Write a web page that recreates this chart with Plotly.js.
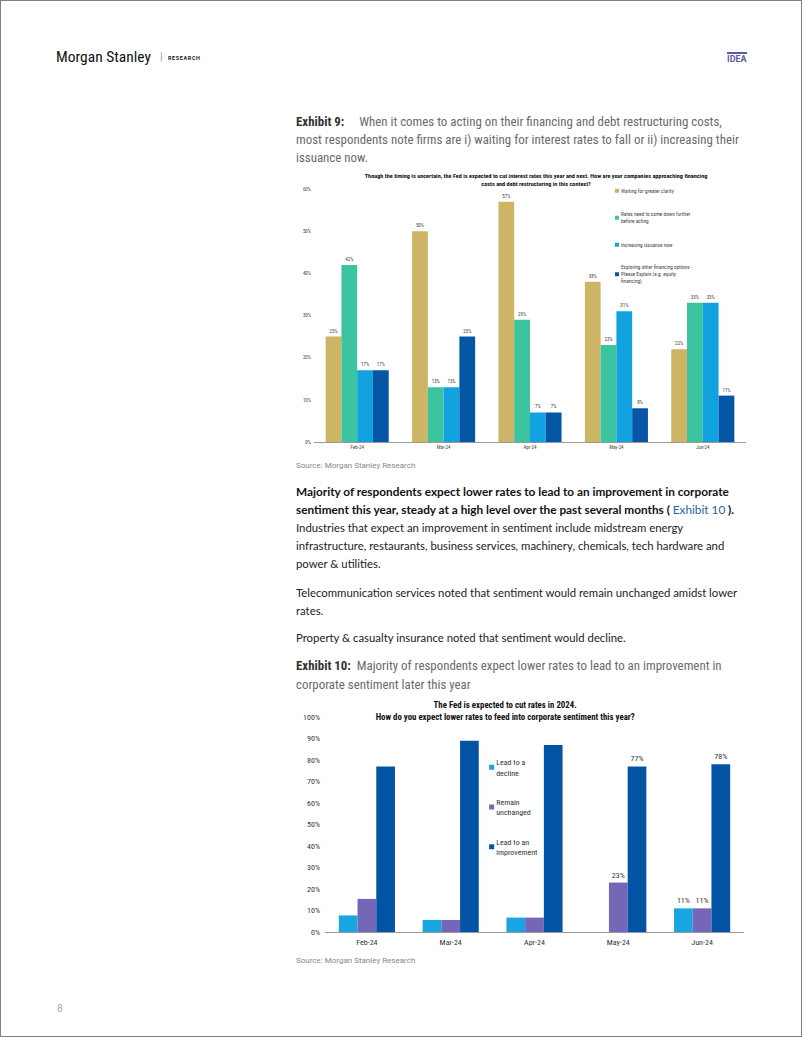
<!DOCTYPE html>
<html><head><meta charset="utf-8">
<script src="https://cdn.plot.ly/plotly-3.0.1.min.js"></script>
<style>
html,body{margin:0;padding:0;background:#fff;}
#page{position:relative;width:802px;height:1037px;box-sizing:border-box;border:1px solid #808080;overflow:hidden;font-family:Lato,"Noto Sans",sans-serif;}
.abs{position:absolute;white-space:nowrap;}
.narrow{font-family:"Liberation Sans Narrow","Roboto Condensed","Arial Narrow",Roboto,sans-serif;}
.para{font-size:11.35px;line-height:18px;color:#222;left:295px;}
.para b{font-size:11.8px;color:#111;}
.cap{font-size:12.9px;line-height:18px;color:#6a6a6a;left:295px;}
.cap b{color:#333;}
.src{font-size:8px;color:#888;left:295px;font-family:Roboto,sans-serif;}
#c1{position:absolute;left:290px;top:165px;width:460px;height:300px;}
#c2{position:absolute;left:280px;top:695px;width:475px;height:260px;}
</style></head>
<body>
<div id="page">
  <div class="abs narrow" style="left:55px;top:47px;font-size:15.5px;color:#111;">Morgan Stanley</div>
  <div class="abs" style="left:159px;top:49px;font-size:11px;color:#999;font-family:Roboto,sans-serif;">|</div>
  <div class="abs" style="left:167px;top:54px;font-size:5.5px;font-weight:bold;letter-spacing:0.6px;color:#222;font-family:Roboto,sans-serif;">RESEARCH</div>
  <div class="abs" style="left:726px;top:51px;width:20px;height:2px;background:#5B5BA8;"></div>
  <div class="abs" style="left:726px;top:53px;font-size:9px;font-weight:bold;color:#5B5BA8;font-family:Roboto,sans-serif;">IDEA</div>

  <div class="abs cap narrow" style="top:112px;"><b>Exhibit 9:</b>&nbsp;&nbsp;&nbsp;&nbsp; When it comes to acting on their financing and debt restructuring costs,<br>most respondents note firms are i) waiting for interest rates to fall or ii) increasing their<br>issuance now.</div>

  <div id="c1"></div>
  <div class="abs src" style="top:460px;">Source: Morgan Stanley Research</div>

  <div class="abs para" style="top:482px;"><b>Majority of respondents expect lower rates to lead to an improvement in corporate<br>sentiment this year, steady at a high level over the past several months ( <span style="color:#2B5EA7;font-weight:normal;">Exhibit 10</span> ).</b><br>Industries that expect an improvement in sentiment include midstream energy<br>infrastructure, restaurants, business services, machinery, chemicals, tech hardware and<br>power &amp; utilities.</div>
  <div class="abs para" style="top:583px;">Telecommunication services noted that sentiment would remain unchanged amidst lower<br>rates.</div>
  <div class="abs para" style="top:628px;">Property &amp; casualty insurance noted that sentiment would decline.</div>

  <div class="abs cap narrow" style="top:655px;line-height:19px;"><b>Exhibit 10:</b>&nbsp; Majority of respondents expect lower rates to lead to an improvement in<br>corporate sentiment later this year</div>

  <div id="c2"></div>
  <div class="abs src" style="top:955px;">Source: Morgan Stanley Research</div>

  <div class="abs" style="left:56px;top:1002px;font-size:10px;color:#aaa;font-family:Roboto,sans-serif;">8</div>
</div>
<script>
// ---------- Exhibit 9 data ----------
const months = ['Feb-24', 'Mar-24', 'Apr-24', 'May-24', 'Jun-24'];
const waitingForClarity = [25, 50, 57, 38, 22];
const ratesComeDownFurther = [42, 13, 29, 23, 33];
const increasingIssuance = [17, 13, 7, 31, 33];
const exploringOtherOptions = [17, 25, 7, 8, 11];
const names1 = [
  'Waiting for greater clarity',
  'Rates need to come down further<br>before acting',
  'Increasing issuance now',
  'Exploring other financing options -<br>Please Explain (e.g. equity<br>financing)'
];
const yTicks1 = [0, 10, 20, 30, 40, 50, 60];

// ---------- Exhibit 10 data ----------
const leadToDecline = [7.7, 5.6, 6.7, 0, 11];
const remainUnchanged = [15.4, 5.6, 6.7, 23, 11];
const leadToImprovement = [77, 89, 87, 77, 78];
const labelledMonths = ['May-24', 'Jun-24'];
const names2 = ['Lead to a<br>decline', 'Remain<br>unchanged', 'Lead to an<br>improvement'];
const yTicks2 = [0, 10, 20, 30, 40, 50, 60, 70, 80, 90, 100];

const NARROW = '"Liberation Sans Narrow", "Roboto Condensed", "Arial Narrow", Roboto, sans-serif';
const colors1 = ['#CDB565', '#3CC3A0', '#12A2E0', '#0557A6'];
const colors2 = ['#19A4E2', '#7467B8', '#0454A5'];

function shrinkLegend(gd, half, cx) {
  gd.querySelectorAll('.legendpoints path').forEach(p => {
    p.setAttribute('d', `M${half},${half}H-${half}V-${half}H${half}Z`);
    p.setAttribute('transform', `translate(${cx},0)`);
  });
}

const series1 = [waitingForClarity, ratesComeDownFurther, increasingIssuance, exploringOtherOptions];
const data1 = series1.map((vals, i) => ({
  type: 'bar', x: months, y: vals, name: names1[i], legendgroup: 'g' + i,
  marker: {color: colors1[i]},
  text: vals.map(v => v + '%'), textposition: 'outside', cliponaxis: false,
  constraintext: 'none',
  textfont: {family: NARROW, size: 5, color: '#444'}
}));
const layout1 = {
  width: 460, height: 300,
  margin: {l: 23, r: 5, t: 23, b: 24},
  paper_bgcolor: 'rgba(0,0,0,0)', plot_bgcolor: 'rgba(0,0,0,0)',
  font: {family: NARROW, size: 5, color: '#444'},
  title: {
    text: '<b>Though the timing is uncertain, the Fed is expected to cut interest rates this year and next. How are your companies approaching financing<br>costs and debt restructuring in this context?</b>',
    font: {family: NARROW, size: 6.2, color: '#111'},
    x: 0.514, xanchor: 'center', xref: 'paper', y: 0.959, yref: 'container', yanchor: 'middle'
  },
  barmode: 'group', bargap: 0.27, bargroupgap: 0,
  xaxis: {showline: true, linecolor: '#999', linewidth: 1, ticks: '', tickfont: {size: 5, color: '#444'}, showgrid: false, zeroline: false},
  yaxis: {range: [0, 60], tickvals: yTicks1, ticktext: yTicks1.map(v => v + '%'), showgrid: false, zeroline: false, showline: false, ticks: '', tickfont: {size: 5, color: '#444'}, ticklabelstandoff: 2},
  showlegend: true,
  legend: {x: 0.618, xanchor: 'left', y: 1.05, yanchor: 'top', traceorder: 'grouped', tracegroupgap: 8, bgcolor: 'rgba(0,0,0,0)', font: {family: NARROW, size: 5.3, color: '#444'}, itemwidth: 30}
};
Plotly.newPlot('c1', data1, layout1, {staticPlot: true}).then(gd => shrinkLegend(gd, 2, 36));

const series2 = [leadToDecline, remainUnchanged, leadToImprovement];
const data2 = series2.map((vals, i) => ({
  type: 'bar', x: months, y: vals, name: names2[i], legendgroup: 'h' + i,
  marker: {color: colors2[i]},
  text: vals.map((v, j) => (labelledMonths.includes(months[j]) && v > 0) ? Math.round(v) + '%' : ''),
  textposition: 'outside', cliponaxis: false, constraintext: 'none',
  textfont: {family: NARROW, size: 8, color: '#333'}
}));
const layout2 = {
  width: 475, height: 260,
  margin: {l: 44, r: 12, t: 21, b: 24},
  paper_bgcolor: 'rgba(0,0,0,0)', plot_bgcolor: 'rgba(0,0,0,0)',
  font: {family: NARROW, size: 8, color: '#333'},
  title: {
    text: '<b>The Fed is expected to cut rates in 2024.<br>How do you expect lower rates to feed into corporate sentiment this year?</b>',
    font: {family: NARROW, size: 8.8, color: '#111'},
    x: 0.43, xanchor: 'center', xref: 'paper', y: 0.953, yref: 'container', yanchor: 'middle'
  },
  barmode: 'group', bargap: 0.33, bargroupgap: 0,
  xaxis: {showline: true, linecolor: '#999', linewidth: 1, ticks: '', tickfont: {size: 8, color: '#333'}, showgrid: false, zeroline: false, ticklabelstandoff: 2},
  yaxis: {range: [0, 100], tickvals: yTicks2, ticktext: yTicks2.map(v => v + '%'), showgrid: false, zeroline: false, showline: false, ticks: '', tickfont: {size: 8, color: '#333'}, ticklabelstandoff: 4},
  showlegend: true,
  legend: {x: 0.313, xanchor: 'left', y: 0.845, yanchor: 'top', traceorder: 'grouped', tracegroupgap: 16, bgcolor: 'rgba(0,0,0,0)', font: {family: NARROW, size: 8, color: '#333'}, itemwidth: 30}
};
Plotly.newPlot('c2', data2, layout2, {staticPlot: true}).then(gd => shrinkLegend(gd, 2.5, 35.5));
</script>
</body></html>
